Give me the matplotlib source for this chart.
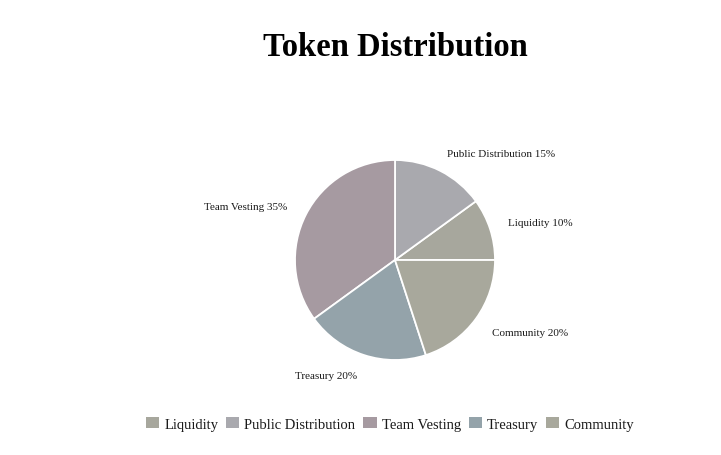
import matplotlib.pyplot as plt
from matplotlib.patches import Patch

# data, legend order (counterclockwise from 3 o'clock)
categories = ["Liquidity", "Public Distribution", "Team Vesting", "Treasury", "Community"]
shares = [10, 15, 35, 20, 20]
colors = ["#a7a79d", "#a9a9ae", "#a69aa1", "#94a3aa", "#a8a89c"]

# label placement (in pie radius units)
label_pos = {
    "Liquidity": (1.45, 0.37),
    "Public Distribution": (1.06, 1.07),
    "Team Vesting": (-1.49, 0.54),
    "Treasury": (-0.69, -1.16),
    "Community": (1.35, -0.72),
}

plt.rcParams["font.family"] = ["Liberation Serif", "DejaVu Serif"]

W, H = 721, 456
fig = plt.figure(figsize=(W / 100, H / 100), dpi=100)

cx, cy, r = 395, 261, 100
ax = fig.add_axes([(cx - r) / W, (H - cy - r) / H, 2 * r / W, 2 * r / H])

wedges, _ = ax.pie(
    shares,
    colors=colors,
    startangle=0,
    counterclock=True,
    radius=1,
    wedgeprops={"edgecolor": "white", "linewidth": 1.3},
)
ax.set_xlim(-1, 1)
ax.set_ylim(-1, 1)
ax.set_aspect("equal")
ax.axis("off")

for name, val in zip(categories, shares):
    x, y = label_pos[name]
    ax.text(x, y, f"{name} {val}%", ha="center", va="center",
            fontsize=8, color="#1a1a1a")

fig.text(395 / W, 1 - 48 / H, "Token Distribution", ha="center", va="center",
         fontsize=23.5, fontweight="bold", color="#000000")

handles = [Patch(facecolor=c, edgecolor="none") for c in colors]
fig.legend(handles, categories, loc="center", bbox_to_anchor=(390 / W, 1 - 425 / H),
           ncol=5, frameon=False, fontsize=10.5, handlelength=0.9, handleheight=0.75,
           handletextpad=0.35, columnspacing=0.55, labelcolor="#1a1a1a")

fig.savefig("out.png", dpi=100)
